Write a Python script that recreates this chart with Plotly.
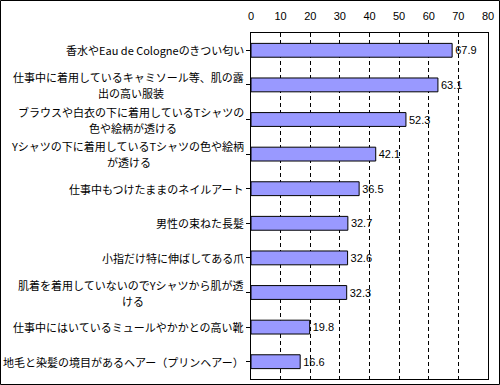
import plotly.graph_objects as go

categories = [
    "香水やEau de Cologneのきつい匂い",
    "仕事中に着用しているキャミソール等、肌の露<br>出の高い服装",
    "ブラウスや白衣の下に着用しているTシャツの<br>色や絵柄が透ける",
    "Yシャツの下に着用しているTシャツの色や絵柄<br>が透ける",
    "仕事中もつけたままのネイルアート",
    "男性の束ねた長髪",
    "小指だけ特に伸ばしてある爪",
    "肌着を着用していないのでYシャツから肌が透<br>ける",
    "仕事中にはいているミュールやかかとの高い靴",
    "地毛と染髪の境目があるヘアー（プリンヘアー）",
]
values = [67.9, 63.1, 52.3, 42.1, 36.5, 32.7, 32.6, 32.3, 19.8, 16.6]
x_ticks = [0, 10, 20, 30, 40, 50, 60, 70, 80]

W, H = 500, 385
L, R, T, B = 251, 12, 33, 6
pw, ph = W - L - R, H - T - B
FS = 11
GAP = 5

idx = list(range(len(categories)))
labels_text = [f"{v:.1f}" for v in values]


def text_width(s):
    w = 0.0
    for ch in s:
        if ord(ch) > 0x2000:
            w += FS
        elif ch == " ":
            w += FS * 0.22
        elif ch.isupper():
            w += FS * 0.6
        else:
            w += FS * 0.52
    return w


fig = go.Figure()
fig.add_trace(go.Bar(
    x=values, y=idx, orientation="h", width=0.4,
    marker=dict(color="#9999FF", line=dict(color="black", width=1)),
    text=labels_text, textposition="outside", cliponaxis=False,
    textfont=dict(family="Liberation Sans, Arial", size=11, color="black"),
    hoverinfo="skip",
))

for i, c in enumerate(categories):
    lines = c.split("<br>")
    if len(lines) == 1:
        fig.add_annotation(
            x=0, xref="paper", y=i, yref="y", text=c, showarrow=False,
            xanchor="right", yanchor="middle", xshift=-GAP,
            font=dict(family="Noto Sans CJK JP", size=FS, color="black"),
        )
    else:
        w1 = text_width(lines[0])
        fig.add_annotation(
            x=0, xref="paper", y=i, yref="y", text=lines[0], showarrow=False,
            xanchor="right", yanchor="middle", xshift=-GAP, yshift=8,
            font=dict(family="Noto Sans CJK JP", size=FS, color="black"),
        )
        fig.add_annotation(
            x=0, xref="paper", y=i, yref="y", text=lines[1], showarrow=False,
            xanchor="center", yanchor="middle", xshift=-GAP - w1 / 2, yshift=-8,
            font=dict(family="Noto Sans CJK JP", size=FS, color="black"),
        )

# outer border
fig.add_shape(
    type="rect", xref="paper", yref="paper",
    x0=(0.5 - L) / pw, x1=(W - 0.5 - L) / pw,
    y0=-(B - 0.5) / ph, y1=1 + (T - 0.5) / ph,
    line=dict(color="black", width=1), fillcolor="rgba(0,0,0,0)",
)

fig.update_layout(
    width=W, height=H, margin=dict(l=L, r=R, t=T, b=B, autoexpand=False),
    paper_bgcolor="white", plot_bgcolor="white", showlegend=False,
    xaxis=dict(
        side="top", range=[0, 80], tickvals=x_ticks, ticktext=[str(t) for t in x_ticks],
        showgrid=True, gridcolor="black", gridwidth=1, griddash="4px,3px",
        showline=True, linecolor="black", linewidth=1, mirror=True,
        ticks="", zeroline=False, ticklabelstandoff=8,
        tickfont=dict(family="Liberation Sans, Arial", size=11, color="black"),
        fixedrange=True,
    ),
    yaxis=dict(
        range=[len(categories) - 0.5, -0.5], tickvals=idx, ticktext=[""] * len(idx),
        showgrid=False, showline=True, linecolor="black", linewidth=1, mirror=True,
        ticks="outside", tickson="boundaries", ticklen=4, tickcolor="black",
        showticklabels=False, zeroline=False, fixedrange=True,
    ),
)

fig.write_html(
    "out.html",
    config={"displayModeBar": False},
    post_script="document.body.style.margin='0';document.body.style.overflow='hidden';",
)
